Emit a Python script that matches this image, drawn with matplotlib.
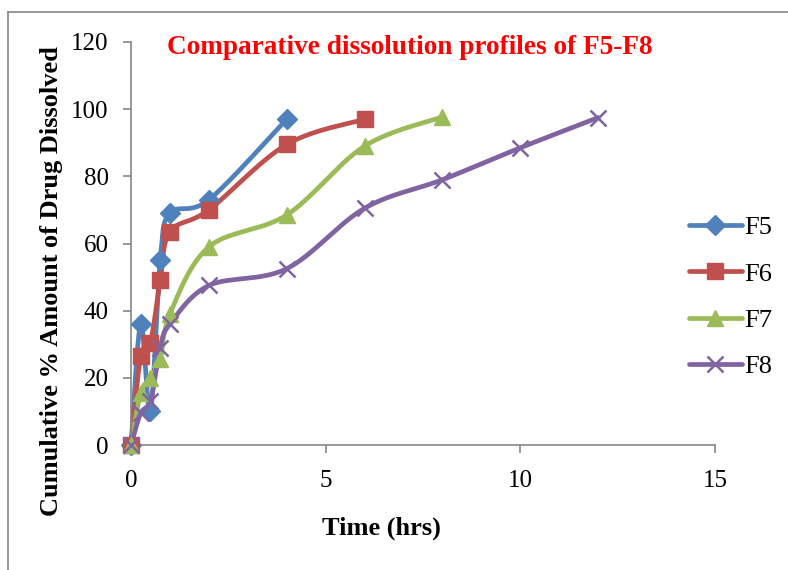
import numpy as np
import matplotlib
matplotlib.use("Agg")
import matplotlib.pyplot as plt
from matplotlib.lines import Line2D

# ---- data ----
time_f5 = [0, 0.25, 0.5, 0.75, 1, 2, 4]
f5 = [0, 36, 10, 55, 69, 73, 97]
time_f6 = [0, 0.25, 0.5, 0.75, 1, 2, 4, 6]
f6 = [0, 26.5, 30.5, 49, 63.5, 70, 89.5, 97]
time_f7 = [0, 0.25, 0.5, 0.75, 1, 2, 4, 6, 8]
f7 = [0, 15.5, 20, 25.5, 39, 59, 68.5, 89, 97.7]
time_f8 = [0, 0.25, 0.5, 0.75, 1, 2, 4, 6, 8, 10, 12]
f8 = [0, 9.5, 13, 29, 36, 47.5, 52.5, 70.5, 79, 88.5, 97.5]
labels = ["F5", "F6", "F7", "F8"]
colors = ["#4F81BD", "#C0504D", "#9BBB59", "#8064A2"]
markers = ["D", "s", "^", "x"]
xticks = [0, 5, 10, 15]
yticks = [0, 20, 40, 60, 80, 100, 120]

plt.rcParams['font.family'] = ['Liberation Serif', 'DejaVu Serif']

W, H = 788, 570
fig = plt.figure(figsize=(W / 100, H / 100), dpi=100)
ax = fig.add_axes([131 / W, 1 - 445 / H, (715 - 131) / W, (445 - 42) / H])
ax.set_xlim(0, 15)
ax.set_ylim(0, 120)


def smooth(xs, ys, sx, sy, n=30):
    # Excel-like smoothing (Catmull-Rom Bezier) in scaled (pixel-like) space
    P = np.column_stack([np.asarray(xs, float) * sx, np.asarray(ys, float) * sy])
    out = []
    for i in range(len(P) - 1):
        p0 = P[i - 1] if i > 0 else P[i]
        p1 = P[i]
        p2 = P[i + 1]
        p3 = P[i + 2] if i + 2 < len(P) else P[i + 1]
        c1 = p1 + (p2 - p0) / 6
        c2 = p2 - (p3 - p1) / 6
        t = np.linspace(0, 1, n)[:, None]
        seg = ((1 - t) ** 3) * p1 + 3 * ((1 - t) ** 2) * t * c1 + 3 * (1 - t) * t ** 2 * c2 + t ** 3 * p2
        out.append(seg if i == 0 else seg[1:])
    S = np.vstack(out)
    return S[:, 0] / sx, S[:, 1] / sy


sx = (715 - 131) / 15
sy = (445 - 42) / 120
series = [(time_f5, f5), (time_f6, f6), (time_f7, f7), (time_f8, f8)]
msizes = [10.5, 11.5, 11.5, 12]
handles = []
for (t, v), c, m, lab, ms in zip(series, colors, markers, labels, msizes):
    xs, ys = smooth(t, v, sx, sy)
    ax.plot(xs, ys, color=c, lw=3.4, solid_capstyle='round', clip_on=False, zorder=2)
    if m == "x":
        ax.plot(t, v, linestyle='none', marker=m, ms=ms, mew=1.8, color=c, clip_on=False, zorder=3)
    else:
        ax.plot(t, v, linestyle='none', marker=m, ms=ms, color=c, mec=c, clip_on=False, zorder=3)
    handles.append(Line2D([0], [0], color=c, lw=3.4, marker=m, ms=ms, mew=1.8 if m == "x" else 1,
                          solid_capstyle='round'))

for s in ["top", "right"]:
    ax.spines[s].set_visible(False)
for s in ["left", "bottom"]:
    ax.spines[s].set_color("#868686")
    ax.spines[s].set_linewidth(1.2)
ax.set_xticks(xticks)
ax.set_yticks(yticks)
ax.tick_params(direction='out', length=6, width=1.2, color="#868686", labelsize=18, pad=10)
ax.tick_params(axis='x', pad=12)

fig.text(410 / W, 1 - 48 / H, "Comparative dissolution profiles of F5-F8", color="#FF0000",
         fontsize=19.6, fontweight='bold', ha='center', va='center')
fig.text(52 / W, 1 - 281 / H, "Cumulative % Amount of Drug Dissolved", rotation=90,
         fontsize=19, fontweight='bold', ha='center', va='center')
fig.text(381 / W, 1 - 528 / H, "Time (hrs)", fontsize=19, fontweight='bold', ha='center', va='center')

leg = fig.legend(handles, labels, loc='center left', bbox_to_anchor=(665 / W, 1 - 297 / H),
                 frameon=False, fontsize=19, handlelength=2.0, labelspacing=0.86,
                 handletextpad=0.1)

# outer chart border
fig.add_artist(Line2D([8 / W, 8 / W], [0, 1 - 12 / H], color="#868686", lw=1.2))
fig.add_artist(Line2D([8 / W, 1], [1 - 12 / H, 1 - 12 / H], color="#868686", lw=1.2))

fig.savefig("out.png", dpi=100)
